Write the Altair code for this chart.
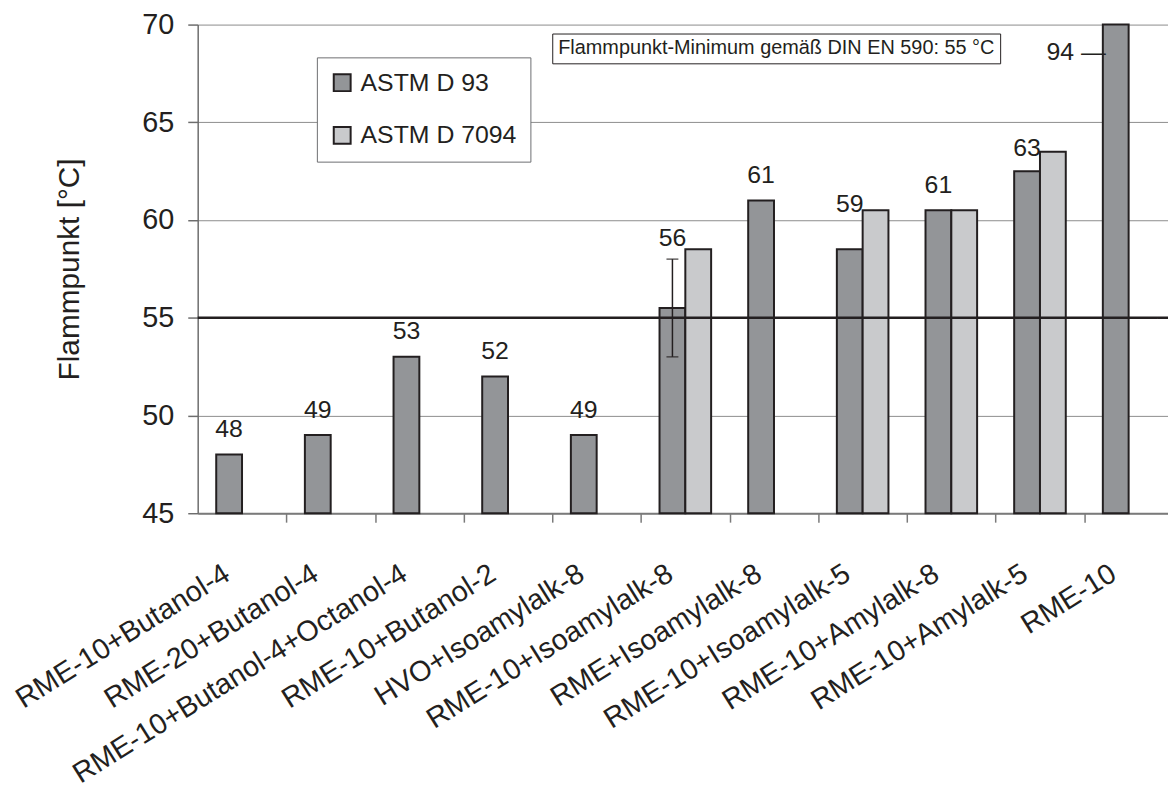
import altair as alt
import pandas as pd

categories = [
    "RME-10+Butanol-4", "RME-20+Butanol-4", "RME-10+Butanol-4+Octanol-4",
    "RME-10+Butanol-2", "HVO+Isoamylalk-8", "RME-10+Isoamylalk-8",
    "RME+Isoamylalk-8", "RME-10+Isoamylalk-5", "RME-10+Amylalk-8",
    "RME-10+Amylalk-5", "RME-10",
]
series = ["ASTM D 93", "ASTM D 7094"]
astm_d93 = [48, 49, 53, 52, 49, 55.5, 61, 58.5, 60.5, 62.5, 94]
astm_d7094 = [None, None, None, None, None, 58.5, None, 60.5, 60.5, 63.5, None]
value_labels = ["48", "49", "53", "52", "49", "56", "61", "59", "61", "63", "94 \u2014"]
label_y = [49.3, 50.3, 54.3, 53.3, 50.3, 59.1, 62.3, 60.8, 61.8, 63.7, 68.6]
err_category = ["RME-10+Isoamylalk-8"]
err_low = [53]
err_high = [58]
limit_value = [55]
limit_note = ["Flammpunkt-Minimum gemäß DIN EN 590: 55 °C"]

rows = []
for c, a, b in zip(categories, astm_d93, astm_d7094):
    rows.append({"Kategorie": c, "Methode": series[0], "Wert": a})
    if b is not None:
        rows.append({"Kategorie": c, "Methode": series[1], "Wert": b})
bar_df = pd.DataFrame(rows)

lab_df = pd.DataFrame({
    "Kategorie": categories,
    "Methode": [series[0]] * len(categories),
    "txt": value_labels,
    "y": label_y,
})
err_df = pd.DataFrame({"Kategorie": err_category, "Methode": [series[0]],
                       "lo": err_low, "hi": err_high})
lim_df = pd.DataFrame({"y": limit_value, "note": limit_note})

INK = "#231f20"
FONT = "Liberation Sans"
STEP = 982 / len(categories)

yscale = alt.Scale(domain=[45, 70], clamp=True, nice=False, zero=False)
xscale = alt.Scale(domain=categories, paddingInner=0.418, paddingOuter=0.209, range=[0, 982])
xoff = alt.XOffset("Methode:N", scale=alt.Scale(domain=series, paddingInner=0, paddingOuter=0))

x_axis = alt.Axis(
    title=None, labelAngle=-32, labelFontSize=29, labelAlign="right",
    labelBaseline="top", labelPadding=37,
    tickOffset={"expr": str(STEP / 2)},
    labelOffset={"expr": str(-STEP / 2 - 23)},
    labelLimit=800, labelOverlap=False, labelColor=INK, tickSize=9,
    tickColor="#7a7a7a", tickWidth=1.5, domainColor="#7a7a7a", domainWidth=2,
    grid=False,
)
y_axis = alt.Axis(
    title="Flammpunkt [°C]", values=[45, 50, 55, 60, 65, 70], labelFontSize=29,
    labelColor=INK, labelPadding=14, titleFontSize=30, titleFontWeight="normal",
    titleColor=INK, titlePadding=58, tickSize=10, tickColor="#6d6d6d",
    tickWidth=1.5, domainColor="#6d6d6d", domainWidth=1.5, grid=True,
    gridColor="#8c8c8c", gridWidth=1,
)

bars = alt.Chart(bar_df).mark_bar(stroke=INK, strokeWidth=2).encode(
    x=alt.X("Kategorie:N", sort=categories, scale=xscale, axis=x_axis),
    xOffset=xoff,
    y=alt.Y("Wert:Q", scale=yscale, axis=y_axis),
    color=alt.Color(
        "Methode:N",
        scale=alt.Scale(domain=series, range=["#939598", "#c9cacc"]),
        legend=alt.Legend(
            title=None, orient="none", legendX=120, legendY=33,
            direction="vertical", symbolType="square", symbolSize=289,
            symbolStrokeColor=INK, symbolStrokeWidth=2, labelFontSize=25,
            labelColor=INK, labelOffset=6, rowPadding=27, padding=13,
            strokeColor="#6d6e71", fillColor="white", labelFont=FONT,
        ),
    ),
)

err_rule = alt.Chart(err_df).mark_rule(color=INK, strokeWidth=1.5).encode(
    x=alt.X("Kategorie:N", sort=categories, scale=xscale),
    xOffset=xoff,
    y=alt.Y("lo:Q", scale=yscale),
    y2="hi:Q",
)
err_lo = alt.Chart(err_df).mark_tick(color=INK, thickness=1.5, size=12).encode(
    x=alt.X("Kategorie:N", sort=categories, scale=xscale),
    xOffset=xoff,
    y=alt.Y("lo:Q", scale=yscale),
)
err_hi = alt.Chart(err_df).mark_tick(color=INK, thickness=1.5, size=12).encode(
    x=alt.X("Kategorie:N", sort=categories, scale=xscale),
    xOffset=xoff,
    y=alt.Y("hi:Q", scale=yscale),
)

limit_rule = alt.Chart(lim_df).mark_rule(color=INK, strokeWidth=2.5).encode(
    y=alt.Y("y:Q", scale=yscale),
    strokeDash=alt.StrokeDash(
        "note:N",
        scale=alt.Scale(domain=limit_note, range=[[1, 0]]),
        legend=alt.Legend(
            title=None, orient="none", legendX=357, legendY=9,
            symbolSize=0, symbolStrokeWidth=0, symbolOpacity=0,
            labelOffset={"expr": "-19"}, labelFontSize=20, labelColor=INK, padding=5,
            strokeColor=INK, fillColor="white", labelLimit=800, labelFont=FONT,
        ),
    ),
)

normal_labels = alt.Chart(lab_df[lab_df["Kategorie"] != "RME-10"]).mark_text(
    fontSize=25, color=INK, baseline="middle", align="center", font=FONT
).encode(
    x=alt.X("Kategorie:N", sort=categories, scale=xscale),
    xOffset=xoff,
    y=alt.Y("y:Q", scale=yscale),
    text="txt:N",
)
top_label = alt.Chart(lab_df[lab_df["Kategorie"] == "RME-10"]).mark_text(
    fontSize=25, color=INK, baseline="middle", align="right", dx=-10, font=FONT
).encode(
    x=alt.X("Kategorie:N", sort=categories, scale=xscale),
    xOffset=xoff,
    y=alt.Y("y:Q", scale=yscale),
    text="txt:N",
)

chart = alt.layer(
    bars, err_rule, err_lo, err_hi, limit_rule, normal_labels, top_label
).properties(
    width=977, height=492,
    autosize=alt.AutoSizeParams(type="none"),
    padding={"left": 191, "top": 14, "right": 0, "bottom": 278},
).configure(font=FONT).configure_view(strokeWidth=0)

chart.save("out.html", embed_options={"renderer": "svg", "actions": False})
